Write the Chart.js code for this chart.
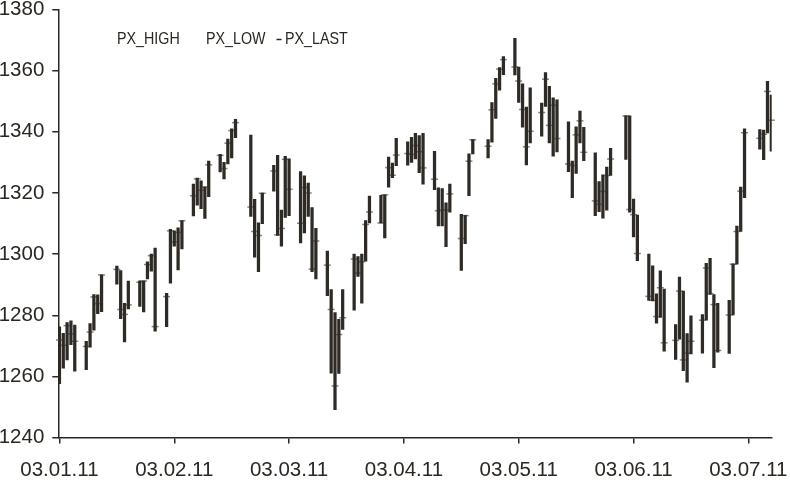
<!DOCTYPE html>
<html>
<head>
<meta charset="utf-8">
<script src="https://cdn.jsdelivr.net/npm/chart.js@4/dist/chart.umd.min.js"></script>
<style>
  html, body { margin: 0; padding: 0; background: #fff; }
</style>
</head>
<body>
<canvas id="graph" width="790" height="480"></canvas>
<script>
// trading days (dd.mm.yy)
var dates = [
  '03.01.11','04.01.11','05.01.11','06.01.11','07.01.11','10.01.11','11.01.11','12.01.11','13.01.11','14.01.11',
  '18.01.11','19.01.11','20.01.11','21.01.11','24.01.11','25.01.11','26.01.11','27.01.11','28.01.11','31.01.11',
  '01.02.11','02.02.11','03.02.11','04.02.11','07.02.11','08.02.11','09.02.11','10.02.11','11.02.11','14.02.11',
  '15.02.11','16.02.11','17.02.11','18.02.11','22.02.11','23.02.11','24.02.11','25.02.11','28.02.11',
  '01.03.11','02.03.11','03.03.11','04.03.11','07.03.11','08.03.11','09.03.11','10.03.11','11.03.11','14.03.11',
  '15.03.11','16.03.11','17.03.11','18.03.11','21.03.11','22.03.11','23.03.11','24.03.11','25.03.11','28.03.11',
  '29.03.11','30.03.11','31.03.11',
  '01.04.11','04.04.11','05.04.11','06.04.11','07.04.11','08.04.11','11.04.11','12.04.11','13.04.11','14.04.11',
  '15.04.11','18.04.11','19.04.11','20.04.11','21.04.11','25.04.11','26.04.11','27.04.11','28.04.11','29.04.11',
  '02.05.11','03.05.11','04.05.11','05.05.11','06.05.11','09.05.11','10.05.11','11.05.11','12.05.11','13.05.11',
  '16.05.11','17.05.11','18.05.11','19.05.11','20.05.11','23.05.11','24.05.11','25.05.11','26.05.11','27.05.11',
  '31.05.11',
  '01.06.11','02.06.11','03.06.11','06.06.11','07.06.11','08.06.11','09.06.11','10.06.11','13.06.11','14.06.11',
  '15.06.11','16.06.11','17.06.11','20.06.11','21.06.11','22.06.11','23.06.11','24.06.11','27.06.11','28.06.11',
  '29.06.11','30.06.11',
  '01.07.11','05.07.11','06.07.11','07.07.11','08.07.11'
];

var pxHigh = [
  1276.2,1274.1,1277.6,1278.2,1276.8,1271.5,1277.3,1286.8,1286.7,1293.2,
  1296.1,1294.6,1283.9,1291.2,1291.3,1291.3,1297.5,1300.0,1302.0,1287.2,
  1308.1,1307.6,1308.6,1311.0,1322.9,1324.9,1324.0,1322.0,1330.4,1332.6,
  1330.0,1337.6,1341.0,1344.1,1338.9,1317.9,1310.2,1320.0,1329.0,
  1332.3,1314.4,1332.0,1331.2,1327.0,1325.6,1323.2,1315.2,1308.4,1301.0,
  1288.4,1280.9,1278.7,1288.4,1300.0,1299.2,1300.0,1311.0,1319.0,1319.2,
  1319.4,1331.7,1329.8,
  1337.9,1336.7,1338.2,1339.5,1338.8,1339.5,1333.6,1321.7,1321.4,1316.8,
  1322.9,1313.0,1312.7,1332.8,1337.5,1337.5,1349.6,1357.5,1361.0,1364.6,
  1370.6,1361.2,1355.7,1348.1,1354.4,1349.4,1359.4,1354.9,1351.1,1350.5,
  1343.3,1330.4,1341.6,1346.8,1341.5,1333.1,1323.7,1325.9,1328.5,1334.6,
  1345.2,
  1345.2,1318.0,1312.8,1300.0,1296.2,1287.0,1294.5,1288.6,1277.0,1292.5,
  1287.9,1274.0,1279.8,1280.2,1297.0,1298.6,1286.8,1283.9,1284.9,1296.8,
  1309.2,1321.9,
  1341.0,1340.7,1340.6,1356.5,1352.0
];

var pxLow = [
  1257.6,1262.7,1265.4,1270.4,1261.7,1262.2,1269.6,1275.1,1280.5,1281.2,
  1290.2,1278.9,1271.3,1282.1,1282.9,1281.1,1291.9,1294.4,1274.8,1276.3,
  1290.5,1302.6,1294.8,1301.7,1312.5,1316.0,1314.9,1311.7,1318.8,1326.9,
  1324.6,1329.5,1331.5,1338.1,1312.3,1299.0,1294.3,1310.0,1320.6,
  1306.1,1302.6,1312.0,1312.6,1303.7,1306.9,1312.3,1294.3,1291.9,1286.4,
  1261.1,1249.1,1261.0,1275.4,1281.7,1292.7,1284.0,1297.7,1310.2,1310.2,
  1305.3,1321.9,1325.0,
  1328.9,1329.1,1330.0,1331.1,1326.6,1322.9,1321.1,1309.2,1309.2,1302.4,
  1313.7,1294.7,1303.4,1319.1,1332.8,1331.5,1336.6,1344.4,1353.6,1358.7,
  1358.6,1349.6,1341.5,1329.2,1336.4,1338.6,1348.3,1336.4,1332.0,1333.4,
  1327.0,1318.5,1326.4,1336.4,1330.6,1312.6,1313.9,1311.8,1314.4,1325.7,
  1331.0,
  1313.7,1305.6,1297.9,1284.9,1284.7,1277.4,1279.3,1268.3,1265.6,1272.2,
  1261.9,1258.1,1267.4,1267.6,1278.4,1286.8,1262.9,1267.9,1267.5,1280.1,
  1296.7,1307.4,
  1318.5,1334.3,1330.9,1339.6,1333.7
];

var pxLast = [
  1271.9,1270.2,1276.6,1273.9,1271.5,1269.8,1274.5,1286.0,1283.8,1293.2,
  1295.0,1281.9,1280.3,1283.4,1290.8,1291.2,1296.6,1299.5,1276.3,1286.1,
  1307.6,1304.0,1307.1,1310.9,1319.1,1324.6,1320.9,1321.9,1329.2,1332.3,
  1328.0,1336.3,1340.4,1343.0,1315.4,1307.4,1306.1,1319.9,1327.2,
  1306.3,1308.4,1331.0,1321.2,1310.1,1321.8,1320.0,1295.1,1304.3,1296.4,
  1281.9,1256.9,1273.7,1279.2,1298.4,1293.8,1297.5,1309.7,1313.8,1310.2,
  1319.4,1328.3,1325.8,
  1332.4,1332.9,1332.6,1335.5,1333.5,1328.2,1324.5,1314.2,1314.4,1314.5,
  1319.7,1305.1,1312.6,1330.4,1337.4,1335.3,1347.2,1355.7,1360.5,1363.6,
  1361.2,1356.6,1347.3,1335.1,1340.2,1346.3,1357.2,1342.1,1348.7,1337.8,
  1329.5,1329.0,1339.0,1343.6,1333.3,1317.4,1316.3,1320.5,1325.7,1331.1,
  1345.2,
  1314.6,1312.9,1300.2,1286.2,1284.9,1279.6,1289.0,1271.0,1271.8,1287.9,
  1265.4,1267.6,1271.5,1278.4,1295.5,1287.1,1283.5,1268.5,1280.1,1296.7,
  1307.4,1320.6,
  1339.7,1337.9,1339.2,1353.2,1343.8
];

var tickLabels = ['03.01.11','03.02.11','03.03.11','03.04.11','03.05.11','03.06.11','03.07.11'];
var seriesNames = ['PX_HIGH', 'PX_LOW', 'PX_LAST'];

// days since the first trading day
function dayNo(s) {
  var p = s.split('.');
  return (Date.UTC(2000 + +p[2], +p[1] - 1, +p[0]) - Date.UTC(2011, 0, 3)) / 864e5;
}

var ink = '#2b2722';
var axisFont = { family: '"Liberation Sans", Arial, sans-serif', size: 20.5 };

// legend sits inside the plot; the original uses a condensed face
function narrowText(ctx, txt, x, y) {
  ctx.save();
  ctx.translate(x, y);
  ctx.scale(0.84, 1);
  ctx.fillText(txt, 0, 0);
  ctx.restore();
}

var legendText = {
  id: 'legendText',
  afterDraw: function (chart) {
    var ctx = chart.ctx;
    ctx.save();
    ctx.font = '17px "Liberation Sans", Arial, sans-serif';
    ctx.fillStyle = ink;
    ctx.textBaseline = 'middle';
    narrowText(ctx, seriesNames[0], 117, 39);
    narrowText(ctx, seriesNames[1], 206, 39);
    ctx.strokeStyle = ink;
    ctx.lineWidth = 1.5;
    ctx.beginPath();
    ctx.moveTo(276.5, 39.5);
    ctx.lineTo(281.5, 39.5);
    ctx.stroke();
    narrowText(ctx, seriesNames[2], 285, 39);
    ctx.restore();
  }
};

new Chart(document.getElementById('graph'), {
  type: 'bar',
  data: {
    datasets: [{
      type: 'bar',
      label: seriesNames[0] + ' / ' + seriesNames[1],
      data: dates.map(function (d, i) { return { x: dayNo(d), y: [pxLow[i], pxHigh[i]] }; }),
      backgroundColor: '#2e2a25',
      borderWidth: 0,
      barThickness: 2.6,
      grouped: false
    }, {
      type: 'scatter',
      label: seriesNames[2],
      data: dates.map(function (d, i) { return { x: dayNo(d), y: pxLast[i] }; }),
      pointStyle: 'line',
      pointRadius: 3.5,
      borderColor: '#8a857c',
      borderWidth: 1.5,
      clip: false
    }]
  },
  options: {
    responsive: false,
    animation: false,
    events: [],
    layout: { padding: { top: 9.5, right: 18.3, left: 0, bottom: 0 } },
    plugins: { legend: { display: false }, tooltip: { enabled: false } },
    scales: {
      x: {
        type: 'linear',
        min: -0.3,
        max: 186.1,
        offset: false,
        grid: { drawOnChartArea: false, offset: false, tickLength: 6, tickColor: ink, lineWidth: 1.5 },
        border: { color: ink, width: 1.5 },
        afterBuildTicks: function (axis) {
          axis.ticks = tickLabels.map(function (t, i) { return { value: i * 30 }; });
        },
        ticks: {
          autoSkip: false,
          maxRotation: 0,
          padding: 14,
          color: ink,
          font: axisFont,
          callback: function (v, i) { return tickLabels[i]; }
        },
        afterFit: function (s) {
          s.height = 42.4;
          s.paddingLeft = 0;
          s.paddingRight = 0;
        }
      },
      y: {
        type: 'linear',
        min: 1240,
        max: 1380,
        beginAtZero: false,
        grid: { drawOnChartArea: false, tickLength: 6, tickColor: ink, lineWidth: 1.5 },
        border: { color: ink, width: 1.5 },
        ticks: {
          stepSize: 20,
          padding: 8,
          color: ink,
          font: axisFont,
          callback: function (v) { return String(v); }
        },
        afterFit: function (s) {
          s.width = 58.3;
          s.paddingTop = 0;
          s.paddingBottom = 0;
        }
      }
    }
  },
  plugins: [legendText]
});
</script>
</body>
</html>
